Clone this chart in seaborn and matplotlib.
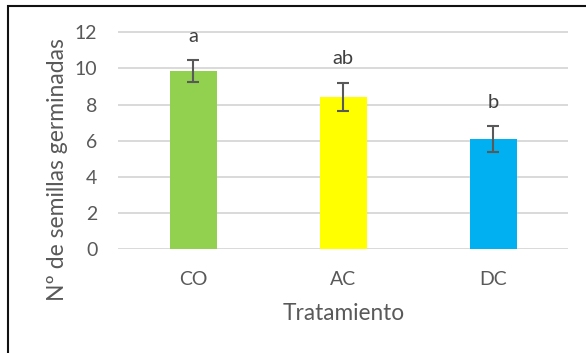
import matplotlib
matplotlib.use("Agg")
import matplotlib.pyplot as plt
import seaborn as sns
import pandas as pd
from matplotlib.patches import Rectangle

# Germinated seeds per treatment (mean ± error) with significance letters
tratamientos = ["CO", "AC", "DC"]
medias = [9.85, 8.43, 6.10]
errores = [0.61, 0.78, 0.70]
letras = ["a", "ab", "b"]
colores = ["#92d050", "#ffff00", "#00b0f0"]

sns.set_theme(style="white")
plt.rcParams["font.family"] = ["Lato", "DejaVu Sans"]

df = pd.DataFrame({"Tratamiento": tratamientos, "Semillas": medias})

W, H = 586, 353
fig = plt.figure(figsize=(W / 100, H / 100), dpi=100)
ax = fig.add_axes([118.3 / W, 1 - 249.3 / H, 450 / W, 219 / H])

sns.barplot(data=df, x="Tratamiento", y="Semillas", hue="Tratamiento",
            palette=colores, width=0.31, legend=False, ax=ax, zorder=3,
            saturation=1, linewidth=0)

xs = range(len(tratamientos))
ax.errorbar(xs, medias, yerr=errores, fmt="none", ecolor="#595959",
            elinewidth=1.5, capsize=4.2, capthick=1.5, zorder=4)

for x, m, e, l in zip(xs, medias, errores, letras):
    ax.annotate(l, (x, m + e), xytext=(0, 13.3), textcoords="offset points",
                ha="center", va="baseline", fontsize=14.5, color="#404040")

ax.set_ylim(0, 12.1)
ax.set_xlim(-0.5, 2.5)
ax.set_yticks(range(0, 13, 2))
ax.yaxis.grid(True, color="#d9d9d9", linewidth=1.4, zorder=0)
ax.xaxis.grid(False)
ax.set_axisbelow(True)
for s in ax.spines.values():
    s.set_visible(False)
ax.tick_params(axis="y", length=0, pad=15, labelsize=14, labelcolor="#595959")
ax.tick_params(axis="x", length=0, pad=15.5, labelsize=14, labelcolor="#595959")

ax.set_xlabel("Tratamiento", fontsize=16.3, color="#595959")
ax.xaxis.label.set_va("center")
ax.xaxis.set_label_coords(0.5, -0.291)
ax.set_ylabel("Nº de semillas germinadas", fontsize=16.5, color="#595959")
ax.yaxis.label.set_va("center")
ax.yaxis.set_label_coords(-0.134, 0.362)

# Outer chart frame (open on the right and bottom edges of the canvas)
fig.patches.append(Rectangle((8.3 / W, -0.05), 1.1, 1 - 5.7 / H + 0.05,
                             transform=fig.transFigure, fill=False,
                             edgecolor="#111111", linewidth=1.5))

fig.savefig("out.png", dpi=100)
